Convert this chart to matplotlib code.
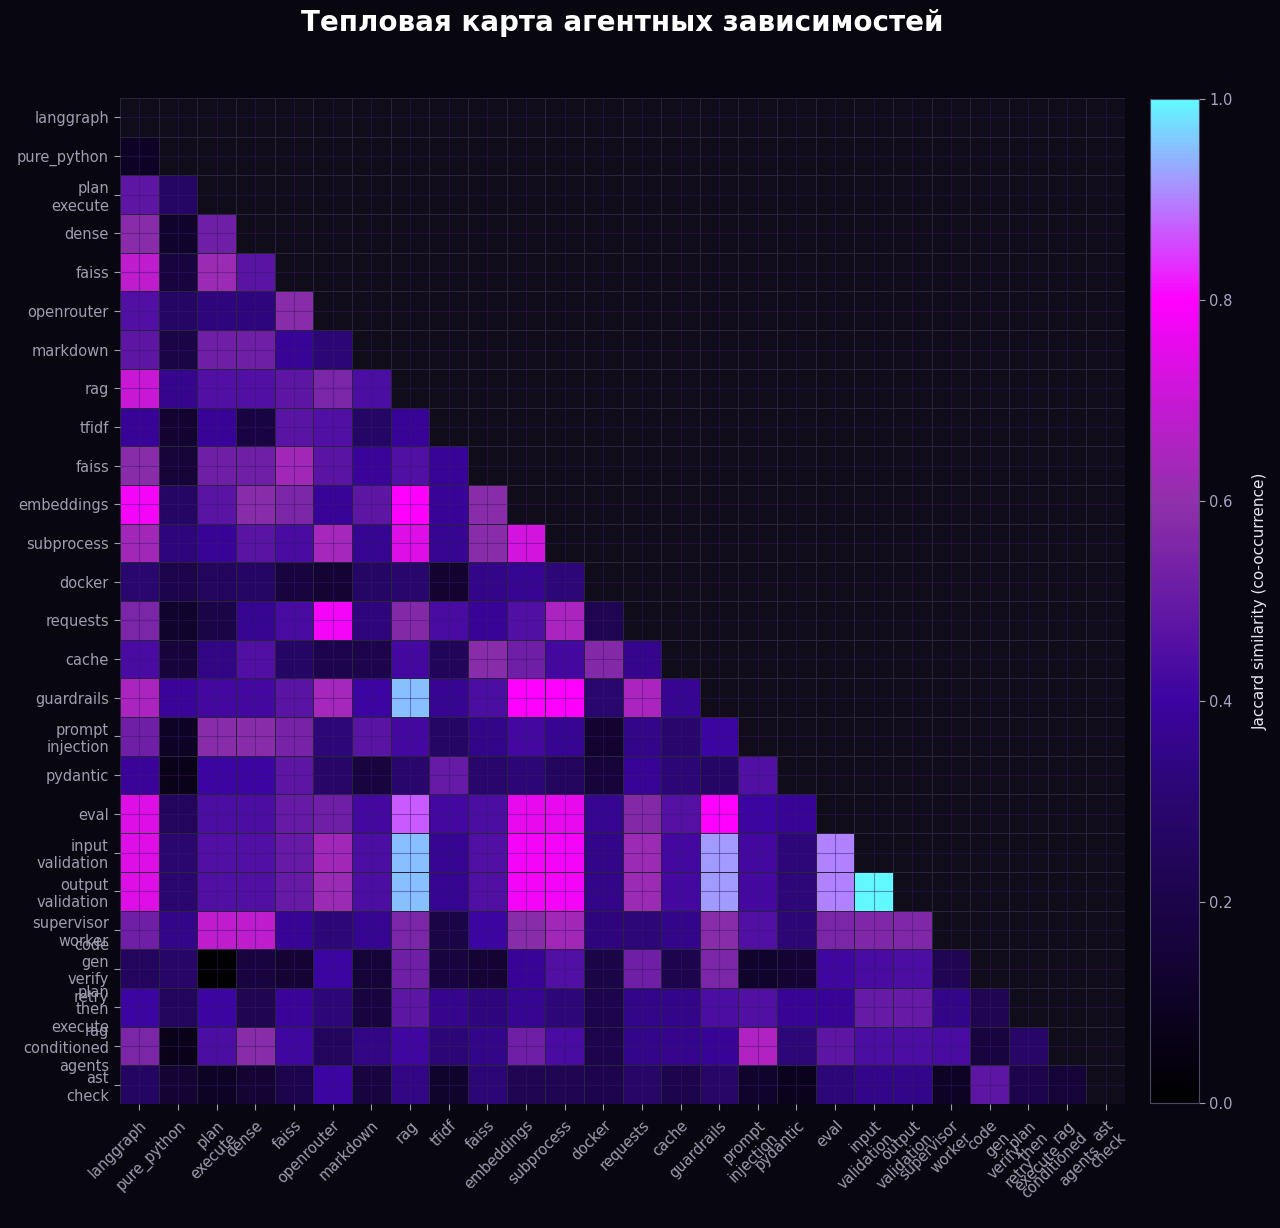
import numpy as np
import matplotlib
matplotlib.use('Agg')
import matplotlib.pyplot as plt
from matplotlib.colors import LinearSegmentedColormap

plt.rcParams['font.family'] = ['DejaVu Sans']

labels = ['langgraph', 'pure_python', 'plan\nexecute', 'dense', 'faiss', 'openrouter',
          'markdown', 'rag', 'tfidf', 'faiss', 'embeddings', 'subprocess', 'docker',
          'requests', 'cache', 'guardrails', 'prompt\ninjection', 'pydantic', 'eval',
          'input\nvalidation', 'output\nvalidation', 'supervisor\nworker',
          'code\ngen\nverify\nretry', 'plan\nthen\nexecute', 'rag\nconditioned\nagents',
          'ast\ncheck']

# lower triangle, row i holds similarity with columns 0..i-1
lower = [
    [],
    [0.10],
    [0.48, 0.27],
    [0.58, 0.12, 0.52],
    [0.68, 0.17, 0.62, 0.47],
    [0.45, 0.27, 0.33, 0.33, 0.58],
    [0.48, 0.19, 0.52, 0.52, 0.38, 0.31],
    [0.70, 0.36, 0.45, 0.45, 0.48, 0.55, 0.44],
    [0.38, 0.13, 0.38, 0.18, 0.47, 0.45, 0.27, 0.38],
    [0.58, 0.15, 0.52, 0.52, 0.63, 0.47, 0.39, 0.45, 0.38],
    [0.78, 0.27, 0.47, 0.58, 0.55, 0.38, 0.48, 0.80, 0.38, 0.58],
    [0.63, 0.33, 0.38, 0.47, 0.43, 0.64, 0.37, 0.74, 0.37, 0.58, 0.72],
    [0.30, 0.20, 0.25, 0.27, 0.17, 0.14, 0.27, 0.29, 0.13, 0.35, 0.37, 0.32],
    [0.55, 0.12, 0.19, 0.37, 0.43, 0.78, 0.33, 0.57, 0.43, 0.38, 0.45, 0.65, 0.22],
    [0.43, 0.16, 0.34, 0.45, 0.27, 0.21, 0.20, 0.42, 0.24, 0.58, 0.52, 0.42, 0.57, 0.36],
    [0.65, 0.39, 0.42, 0.42, 0.47, 0.64, 0.40, 0.95, 0.37, 0.44, 0.80, 0.80, 0.30, 0.65, 0.37],
    [0.52, 0.10, 0.58, 0.58, 0.54, 0.32, 0.47, 0.42, 0.27, 0.35, 0.42, 0.37, 0.13, 0.35, 0.29,
     0.40],
    [0.39, 0.07, 0.40, 0.40, 0.48, 0.28, 0.17, 0.29, 0.50, 0.29, 0.31, 0.25, 0.16, 0.38, 0.31,
     0.27, 0.45],
    [0.74, 0.25, 0.44, 0.44, 0.50, 0.52, 0.42, 0.87, 0.42, 0.44, 0.76, 0.76, 0.37, 0.57, 0.46,
     0.80, 0.40, 0.38],
    [0.74, 0.30, 0.45, 0.45, 0.50, 0.63, 0.44, 0.95, 0.37, 0.45, 0.78, 0.78, 0.35, 0.62, 0.42,
     0.92, 0.42, 0.32, 0.90],
    [0.74, 0.30, 0.45, 0.45, 0.50, 0.62, 0.44, 0.95, 0.37, 0.45, 0.78, 0.78, 0.35, 0.62, 0.42,
     0.92, 0.42, 0.32, 0.90, 1.00],
    [0.52, 0.35, 0.68, 0.68, 0.38, 0.32, 0.37, 0.55, 0.19, 0.40, 0.58, 0.63, 0.33, 0.32, 0.35,
     0.58, 0.45, 0.31, 0.55, 0.56, 0.56],
    [0.25, 0.28, 0.00, 0.17, 0.14, 0.40, 0.15, 0.52, 0.17, 0.14, 0.38, 0.45, 0.19, 0.52, 0.20,
     0.55, 0.12, 0.14, 0.41, 0.43, 0.44, 0.22],
    [0.40, 0.25, 0.40, 0.22, 0.39, 0.32, 0.17, 0.48, 0.36, 0.33, 0.37, 0.32, 0.21, 0.35, 0.35,
     0.44, 0.45, 0.38, 0.38, 0.50, 0.50, 0.35, 0.22],
    [0.55, 0.07, 0.44, 0.58, 0.41, 0.25, 0.34, 0.41, 0.31, 0.35, 0.52, 0.43, 0.20, 0.35, 0.36,
     0.38, 0.66, 0.32, 0.48, 0.44, 0.44, 0.43, 0.17, 0.28],
    [0.26, 0.14, 0.10, 0.14, 0.21, 0.40, 0.17, 0.34, 0.12, 0.31, 0.22, 0.22, 0.21, 0.28, 0.20,
     0.28, 0.12, 0.08, 0.32, 0.35, 0.35, 0.10, 0.48, 0.20, 0.15],
]

n = len(labels)
mat = np.full((n, n), np.nan)
for i, row in enumerate(lower):
    mat[i, :len(row)] = row
data = np.ma.masked_invalid(mat)

bg = '#08060f'
txt = '#aaa2c4'
cmap = LinearSegmentedColormap.from_list(
    'agents', [(0.0, '#000000'), (0.15, '#150438'), (0.3, '#2a0670'), (0.4, '#3c04a0'),
               (0.6, '#9030aa'), (0.8, '#ff00ff'), (0.9, '#b280ff'), (1.0, '#62f8ff')])

fig = plt.figure(figsize=(12.8, 12.28), dpi=100, facecolor=bg)
ax = fig.add_axes([0.09375, 0.10098, 0.7852, 0.8192])
cax = fig.add_axes([0.8984, 0.1018, 0.0383, 0.8176])
ax.set_facecolor('#100c1a')

mesh = ax.pcolormesh(np.arange(n + 1), np.arange(n + 1), data, cmap=cmap, vmin=0, vmax=1,
                     edgecolors='#27243c', linewidth=0.5)
ax.set_xlim(0, n)
ax.set_ylim(n, 0)
ax.set_xticks(np.arange(n) + 0.5)
ax.set_yticks(np.arange(n) + 0.5)
ax.set_xticklabels(labels, rotation=45, ha='right', va='top', rotation_mode='anchor',
                   fontsize=10.5, color=txt)
ax.set_yticklabels(labels, fontsize=10.5, color=txt)
ax.tick_params(colors='#a09cb0', length=4.5, width=0.8)
ax.tick_params(axis='x', pad=5.5)
for s in ax.spines.values():
    s.set_visible(False)
ax.set_axisbelow(False)
ax.grid(True, color='#3a1670', alpha=0.45, linewidth=0.8)

cb = fig.colorbar(mesh, cax=cax)
cb.set_ticks([0.0, 0.2, 0.4, 0.6, 0.8, 1.0])
cb.ax.tick_params(colors='#a09cb0', labelsize=10.5, length=4, width=0.8)
for t in cb.ax.get_yticklabels():
    t.set_color(txt)
cb.outline.set_edgecolor('#4a4a66')
cb.outline.set_linewidth(0.8)
cb.set_label('Jaccard similarity (co-occurrence)', color='#e8e6f0', fontsize=11, labelpad=14)

fig.text(0.4863, 0.981, 'Тепловая карта агентных зависимостей', ha='center', va='center',
         fontsize=20, fontweight='bold', color='white')

fig.savefig('out.png', dpi=100, facecolor=bg)
